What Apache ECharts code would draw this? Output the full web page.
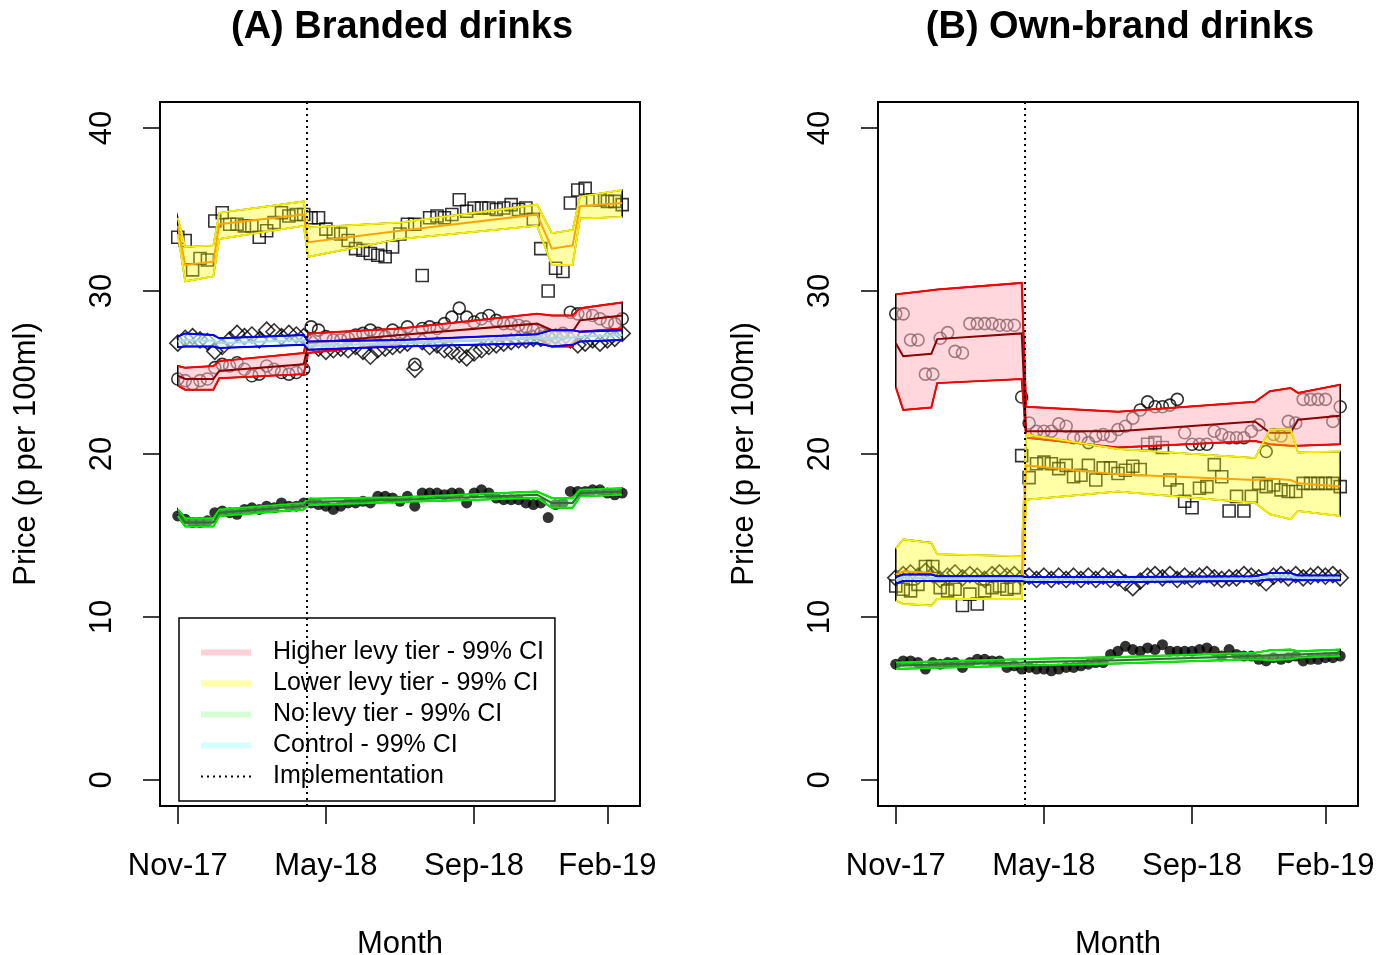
<!DOCTYPE html>
<html>
<head>
<meta charset="utf-8">
<title>Soft drink prices</title>
<script src="https://cdn.jsdelivr.net/npm/echarts@6/dist/echarts.min.js"></script>
<style>
  html, body { margin: 0; padding: 0; background: #fff; }
  #chart { width: 1388px; height: 955px; }
</style>
</head>
<body>
<div id="chart"></div>
<script>
// x = week index since the first observation (Nov-17 = 0)
var weeks = [];
for (var w = 0; w <= 60; w++) weeks.push(w);

var monthTicks = [0, 20, 40, 58];
var monthLabels = ['Nov-17', 'May-18', 'Sep-18', 'Feb-19'];
var priceTicks = [0, 10, 20, 30, 40];
var implementationWeek = 17.45;

// observed mean prices, p per 100ml
var brandedHigher = [24.6, 24.5, 24.3, 24.5, 24.6, 25.3, 25.5, 25.4, 25.6, 25.2, 24.8, 24.9, 25.4, 25.2, 25.0, 24.9, 25.0, 25.2, 27.8, 27.6,
  27.2, 27.0, 27.0, 27.1, 27.3, 27.4, 27.6, 27.4, 27.2, 27.6, 27.4, 27.8, 25.5, 27.7, 27.8, 27.7, 28.0, 28.4, 28.95, 28.4,
  28.1, 28.3, 28.5, 28.2, 28.0, 28.0, 27.9, 27.8, 27.6, 27.4, 27.3, 27.2, 27.4, 28.7, 28.6, 28.6, 28.5, 28.3, 28.1, 28.0, 28.3];
var brandedLower = [33.3, 33.1, 31.3, 32.0, 31.9, 34.3, 34.8, 34.1, 34.1, 34.0, 34.0, 33.3, 33.7, 34.2, 34.8, 34.6, 34.7, 34.7, 34.5, 34.5,
  33.8, 33.6, 33.5, 33.1, 32.6, 32.5, 32.3, 32.2, 32.1, 32.7, 33.5, 34.1, 34.1, 30.95, 34.5, 34.6, 34.5, 34.7, 35.6, 34.9,
  35.1, 35.1, 35.1, 35.0, 35.1, 35.3, 35.0, 35.1, 34.4, 32.6, 30.0, 31.4, 31.2, 35.4, 36.2, 36.3, 35.6, 35.6, 35.5, 35.5, 35.3];
var brandedNone = [16.2, 16.0, 15.8, 15.8, 15.9, 16.4, 16.5, 16.4, 16.3, 16.6, 16.7, 16.6, 16.8, 16.7, 17.0, 16.8, 16.8, 17.0, 17.0, 16.9,
  16.8, 16.6, 16.8, 17.0, 17.0, 17.1, 17.0, 17.4, 17.4, 17.3, 17.1, 17.4, 16.8, 17.6, 17.6, 17.6, 17.5, 17.6, 17.6, 17.0,
  17.6, 17.8, 17.6, 17.3, 17.2, 17.2, 17.2, 17.0, 16.9, 17.0, 16.1, 16.9, 17.0, 17.7, 17.7, 17.7, 17.8, 17.8, 17.6, 17.5, 17.6];
var brandedControl = [26.8, 27.1, 27.2, 27.0, 26.9, 26.3, 26.6, 27.0, 27.4, 27.2, 27.3, 27.0, 27.6, 27.5, 27.2, 27.4, 27.3, 27.2, 26.9, 26.5,
  26.3, 26.4, 26.5, 26.4, 26.6, 26.3, 26.0, 26.4, 26.5, 26.6, 26.7, 26.8, 25.2, 26.9, 26.6, 26.7, 26.4, 26.3, 26.1, 25.9,
  26.2, 26.4, 26.6, 26.7, 26.8, 26.9, 27.0, 27.0, 27.1, 27.1, 27.2, 27.2, 27.1, 27.0, 26.7, 26.8, 27.0, 26.8, 27.0, 27.1, 27.4];

var ownHigher = [28.6, 28.6, 27.0, 27.0, 24.9, 24.9, 27.1, 27.45, 26.3, 26.2, 28.0, 28.0, 28.0, 28.0, 27.9, 27.9, 27.9, 23.5, 21.9, 21.4,
  21.4, 21.4, 21.85, 21.7, 21.0, 21.0, 20.7, 21.1, 21.2, 21.1, 21.5, 21.7, 22.2, 22.7, 23.2, 22.9, 22.9, 23.0, 23.35, 21.3,
  20.6, 20.6, 20.6, 21.4, 21.2, 21.0, 21.0, 21.0, 21.4, 21.8, 20.15, 21.2, 21.1, 22.0, 21.9, 23.35, 23.35, 23.35, 23.35, 22.0, 22.9];
var ownLower = [11.9, 11.7, 11.6, 12.0, 13.1, 13.1, 11.8, 11.6, 11.7, 10.7, 11.4, 10.8, 11.6, 11.8, 11.9, 11.7, 11.8, 19.9, 18.55, 19.4,
  19.5, 19.4, 19.1, 19.3, 18.6, 18.7, 19.3, 18.4, 19.15, 19.15, 18.8, 19.0, 19.25, 19.05, 20.6, 20.7, 20.4, 18.4, 17.8, 17.1,
  16.7, 17.9, 18.0, 19.35, 18.6, 16.5, 17.4, 16.5, 17.4, 18.2, 18.0, 18.1, 17.8, 17.7, 17.7, 18.2, 18.2, 18.2, 18.2, 18.2, 18.0];
var ownNone = [7.1, 7.3, 7.3, 7.2, 6.8, 7.2, 7.1, 7.2, 7.2, 6.9, 7.2, 7.4, 7.4, 7.3, 7.3, 6.9, 7.0, 6.8, 6.9, 6.8,
  6.8, 6.7, 6.8, 6.9, 6.9, 7.0, 7.1, 7.2, 7.2, 7.7, 7.9, 8.2, 8.0, 7.9, 8.1, 8.0, 8.3, 7.9, 7.9, 7.9,
  7.9, 8.0, 8.1, 7.9, 7.6, 8.0, 7.7, 7.6, 7.6, 7.4, 7.3, 7.5, 7.4, 7.5, 7.6, 7.3, 7.4, 7.4, 7.5, 7.5, 7.6];
var ownControl = [12.4, 12.6, 12.7, 12.5, 12.8, 12.6, 12.3, 12.5, 12.7, 12.4, 12.6, 12.5, 12.3, 12.6, 12.7, 12.5, 12.6, 12.4, 12.5, 12.3,
  12.5, 12.3, 12.5, 12.3, 12.5, 12.3, 12.5, 12.3, 12.5, 12.3, 12.4, 12.1, 11.8, 12.2, 12.5, 12.6, 12.4, 12.6, 12.3, 12.5,
  12.3, 12.5, 12.6, 12.4, 12.3, 12.4, 12.4, 12.6, 12.5, 12.4, 12.1, 12.5, 12.6, 12.4, 12.6, 12.4, 12.5, 12.6, 12.5, 12.6, 12.4];

// fitted model with 99% CI, at the fit weeks
var fitWeeks = [0, 1, 4.8, 5.6, 17, 17.6, 30, 48.5, 50.5, 53.3, 54.3, 60];

var brandedHigherMid = [24.8, 24.6, 24.6, 25.1, 25.5, 26.8, 27.3, 28.0, 27.6, 27.5, 28.2, 28.5];
var brandedHigherHi = [25.4, 25.3, 25.4, 25.7, 26.2, 27.4, 27.7, 28.6, 28.5, 28.5, 28.95, 29.3];
var brandedHigherLo = [24.2, 23.95, 23.95, 24.65, 24.9, 26.2, 26.8, 27.1, 26.6, 26.6, 27.5, 27.7];
var brandedLowerMid = [34.0, 31.6, 31.8, 34.1, 34.7, 33.0, 33.7, 34.7, 32.6, 32.8, 35.2, 35.4];
var brandedLowerHi = [34.5, 32.7, 32.8, 34.8, 35.5, 33.9, 34.2, 35.3, 33.55, 33.75, 35.8, 36.2];
var brandedLowerLo = [33.5, 30.6, 30.9, 33.2, 34.0, 32.1, 33.2, 34.0, 31.6, 31.6, 34.45, 34.55];
var brandedNoneMid = [16.4, 15.8, 15.8, 16.4, 16.8, 17.05, 17.2, 17.5, 17.0, 17.0, 17.6, 17.7];
var brandedNoneHi = [16.6, 16.05, 16.05, 16.6, 17.0, 17.25, 17.35, 17.7, 17.3, 17.3, 17.8, 17.9];
var brandedNoneLo = [16.2, 15.55, 15.55, 16.2, 16.6, 16.85, 17.05, 17.3, 16.7, 16.7, 17.4, 17.5];
var brandedControlMid = [26.9, 27.0, 26.95, 26.8, 27.0, 26.65, 26.8, 27.1, 27.1, 27.15, 27.2, 27.3];
var brandedControlHi = [27.2, 27.4, 27.3, 27.1, 27.3, 26.9, 27.0, 27.35, 27.6, 27.6, 27.5, 27.6];
var brandedControlLo = [26.55, 26.6, 26.6, 26.5, 26.7, 26.4, 26.6, 26.8, 26.6, 26.7, 26.9, 27.0];

var ownHigherMid = [26.8, 26.0, 26.15, 27.05, 27.4, 21.4, 21.4, 22.0, 21.3, 21.3, 22.1, 22.35];
var ownHigherHi = [29.8, 29.85, 30.05, 30.1, 30.5, 22.9, 22.6, 23.2, 23.85, 24.05, 23.75, 24.25];
var ownHigherLo = [24.1, 22.7, 22.85, 24.35, 24.6, 21.0, 20.4, 20.8, 20.6, 20.5, 20.5, 20.6];
var ownLowerMid = [12.6, 12.8, 12.7, 12.45, 12.4, 19.3, 18.75, 18.4, 18.5, 18.4, 18.2, 18.0];
var ownLowerHi = [14.2, 14.76, 14.55, 13.85, 13.73, 21.2, 20.3, 19.75, 21.5, 21.5, 20.1, 20.15];
var ownLowerLo = [11.0, 10.8, 10.7, 11.1, 11.1, 17.2, 17.7, 17.0, 16.3, 16.0, 16.5, 16.2];
var ownNoneMid = [7.0, 7.02, 7.07, 7.08, 7.2, 7.22, 7.35, 7.6, 7.65, 7.7, 7.7, 7.8];
var ownNoneHi = [7.2, 7.22, 7.27, 7.28, 7.4, 7.42, 7.55, 7.8, 7.95, 8.0, 7.9, 8.0];
var ownNoneLo = [6.8, 6.82, 6.87, 6.88, 7.0, 7.02, 7.15, 7.4, 7.35, 7.4, 7.5, 7.6];
var ownControlMid = [12.25, 12.4, 12.4, 12.35, 12.35, 12.3, 12.3, 12.35, 12.5, 12.5, 12.4, 12.4];
var ownControlHi = [12.45, 12.6, 12.6, 12.5, 12.5, 12.45, 12.45, 12.5, 12.7, 12.7, 12.55, 12.55];
var ownControlLo = [12.05, 12.2, 12.2, 12.2, 12.2, 12.15, 12.15, 12.2, 12.3, 12.3, 12.25, 12.25];

var FONT = 'Liberation Sans, Arial, sans-serif';
var higherStyle = { fill: 'rgba(255,182,193,0.55)', edge: '#FF0000', centre: '#8B0000', key: '#FFD0D8' };
var lowerStyle = { fill: 'rgba(255,255,0,0.35)', edge: '#F5EE00', centre: '#FFA500', key: '#FFFFA6' };
var noneStyle = { fill: 'rgba(144,238,144,0.5)', edge: '#00EE00', centre: '#2F6F2F', key: '#D4FFD4' };
var controlStyle = { fill: 'rgba(224,255,255,0.6)', edge: '#0000FF', centre: '#A8D8EA', key: '#D4FFFF' };

function pts(values) {
  return weeks.map(function (wk, i) { return [wk, values[i]]; });
}

function scatter(values, idx, symbol, size, filled) {
  return {
    type: 'scatter', xAxisIndex: idx, yAxisIndex: idx, z: 2, silent: true,
    symbol: symbol, symbolSize: size, data: pts(values),
    itemStyle: filled ? { color: '#000' } : { color: 'rgba(0,0,0,0)', borderColor: '#000', borderWidth: 1.6 }
  };
}

function band(name, idx, lo, mid, hi, st) {
  return {
    type: 'custom', name: name, xAxisIndex: idx, yAxisIndex: idx, z: 3, silent: true,
    itemStyle: { color: st.key },
    data: fitWeeks.map(function (wk, i) { return [wk, lo[i], mid[i], hi[i]]; }),
    encode: { x: 0, y: [1, 3] },
    renderItem: function (params, api) {
      if (params.dataIndex !== 0) return null;
      var up = fitWeeks.map(function (wk, i) { return api.coord([wk, hi[i]]); });
      var down = fitWeeks.map(function (wk, i) { return api.coord([wk, lo[i]]); });
      var centre = fitWeeks.map(function (wk, i) { return api.coord([wk, mid[i]]); });
      return {
        type: 'group', children: [
          { type: 'polygon', shape: { points: up.concat(down.slice().reverse()) }, style: { fill: st.fill, stroke: '#000', lineWidth: 1.5 } },
          { type: 'polyline', shape: { points: up }, style: { fill: 'none', stroke: st.edge, lineWidth: 2 } },
          { type: 'polyline', shape: { points: down }, style: { fill: 'none', stroke: st.edge, lineWidth: 2 } },
          { type: 'polyline', shape: { points: centre }, style: { fill: 'none', stroke: st.centre, lineWidth: 2 } }
        ]
      };
    }
  };
}

function implementation(idx) {
  return {
    type: 'line', name: 'Implementation', xAxisIndex: idx, yAxisIndex: idx, z: 5, silent: true,
    symbol: 'none', data: [[implementationWeek, -1.6], [implementationWeek, 41.6]],
    itemStyle: { color: '#000' },
    lineStyle: { color: '#000', width: 2, type: [2, 4] }
  };
}

function xAxisFor(idx) {
  return {
    type: 'value', gridIndex: idx, min: -2.4, max: 62.4,
    name: 'Month', nameLocation: 'middle', nameGap: 123,
    nameTextStyle: { fontSize: 31, color: '#000', fontFamily: FONT },
    axisLine: { show: false, onZero: false }, splitLine: { show: false },
    axisTick: { show: true, customValues: monthTicks, length: 18, lineStyle: { color: '#000', width: 1.5 } },
    axisLabel: {
      customValues: monthTicks, margin: 45, fontSize: 31, color: '#000', fontFamily: FONT,
      formatter: function (v) { return monthLabels[monthTicks.indexOf(v)]; }
    }
  };
}

function yAxisFor(idx) {
  return {
    type: 'value', gridIndex: idx, min: -1.6, max: 41.6,
    name: 'Price (p per 100ml)', nameLocation: 'middle', nameGap: 118,
    nameTextStyle: { fontSize: 31, color: '#000', fontFamily: FONT },
    axisLine: { show: false, onZero: false }, splitLine: { show: false },
    axisTick: { show: true, customValues: priceTicks, length: 17, lineStyle: { color: '#000', width: 1.5 } },
    axisLabel: { customValues: priceTicks, rotate: 90, margin: 42, fontSize: 31, color: '#000', fontFamily: FONT }
  };
}

var chart = echarts.init(document.getElementById('chart'), null, { renderer: 'canvas' });

var option = {
  animation: false,
  backgroundColor: '#fff',
  textStyle: { fontFamily: FONT },
  title: [
    { text: '(A) Branded drinks', left: 397, top: 4, textAlign: 'center', textStyle: { fontSize: 38, fontWeight: 'bold', color: '#000', fontFamily: FONT } },
    { text: '(B) Own-brand drinks', left: 1115, top: 4, textAlign: 'center', textStyle: { fontSize: 38, fontWeight: 'bold', color: '#000', fontFamily: FONT } }
  ],
  grid: [
    { left: 160, top: 102, width: 480, height: 704, show: true, borderColor: '#000', borderWidth: 2, backgroundColor: 'transparent', outerBoundsMode: 'none' },
    { left: 878, top: 102, width: 480, height: 704, show: true, borderColor: '#000', borderWidth: 2, backgroundColor: 'transparent', outerBoundsMode: 'none' }
  ],
  xAxis: [xAxisFor(0), xAxisFor(1)],
  yAxis: [yAxisFor(0), yAxisFor(1)],
  legend: {
    left: 179, top: 618, orient: 'vertical', selectedMode: false,
    padding: [22, 11, 12, 21], itemGap: 6, itemWidth: 50, itemHeight: 6,
    borderColor: '#000', borderWidth: 1.5, backgroundColor: '#fff',
    textStyle: { fontSize: 25, color: '#000', fontFamily: FONT, rich: { sp: { width: 17 } } },
    formatter: function (n) { return '{sp| }' + n; },
    data: [
      { name: 'Higher levy tier - 99% CI', icon: 'rect', itemStyle: { color: higherStyle.key } },
      { name: 'Lower levy tier - 99% CI', icon: 'rect', itemStyle: { color: lowerStyle.key } },
      { name: 'No levy tier - 99% CI', icon: 'rect', itemStyle: { color: noneStyle.key } },
      { name: 'Control - 99% CI', icon: 'rect', itemStyle: { color: controlStyle.key } },
      { name: 'Implementation', itemStyle: { color: 'rgba(0,0,0,0)', borderWidth: 0 } }
    ]
  },
  series: [
    scatter(brandedLower, 0, 'rect', 12, false),
    scatter(brandedHigher, 0, 'circle', 12, false),
    scatter(brandedControl, 0, 'diamond', 16, false),
    scatter(brandedNone, 0, 'circle', 11, true),
    band('Higher levy tier - 99% CI', 0, brandedHigherLo, brandedHigherMid, brandedHigherHi, higherStyle),
    band('Lower levy tier - 99% CI', 0, brandedLowerLo, brandedLowerMid, brandedLowerHi, lowerStyle),
    band('No levy tier - 99% CI', 0, brandedNoneLo, brandedNoneMid, brandedNoneHi, noneStyle),
    band('Control - 99% CI', 0, brandedControlLo, brandedControlMid, brandedControlHi, controlStyle),
    implementation(0),

    scatter(ownLower, 1, 'rect', 12, false),
    scatter(ownHigher, 1, 'circle', 12, false),
    scatter(ownControl, 1, 'diamond', 16, false),
    scatter(ownNone, 1, 'circle', 11, true),
    band('Higher levy tier - 99% CI', 1, ownHigherLo, ownHigherMid, ownHigherHi, higherStyle),
    band('Lower levy tier - 99% CI', 1, ownLowerLo, ownLowerMid, ownLowerHi, lowerStyle),
    band('No levy tier - 99% CI', 1, ownNoneLo, ownNoneMid, ownNoneHi, noneStyle),
    band('Control - 99% CI', 1, ownControlLo, ownControlMid, ownControlHi, controlStyle),
    implementation(1)
  ]
};

chart.setOption(option);
</script>
</body>
</html>
